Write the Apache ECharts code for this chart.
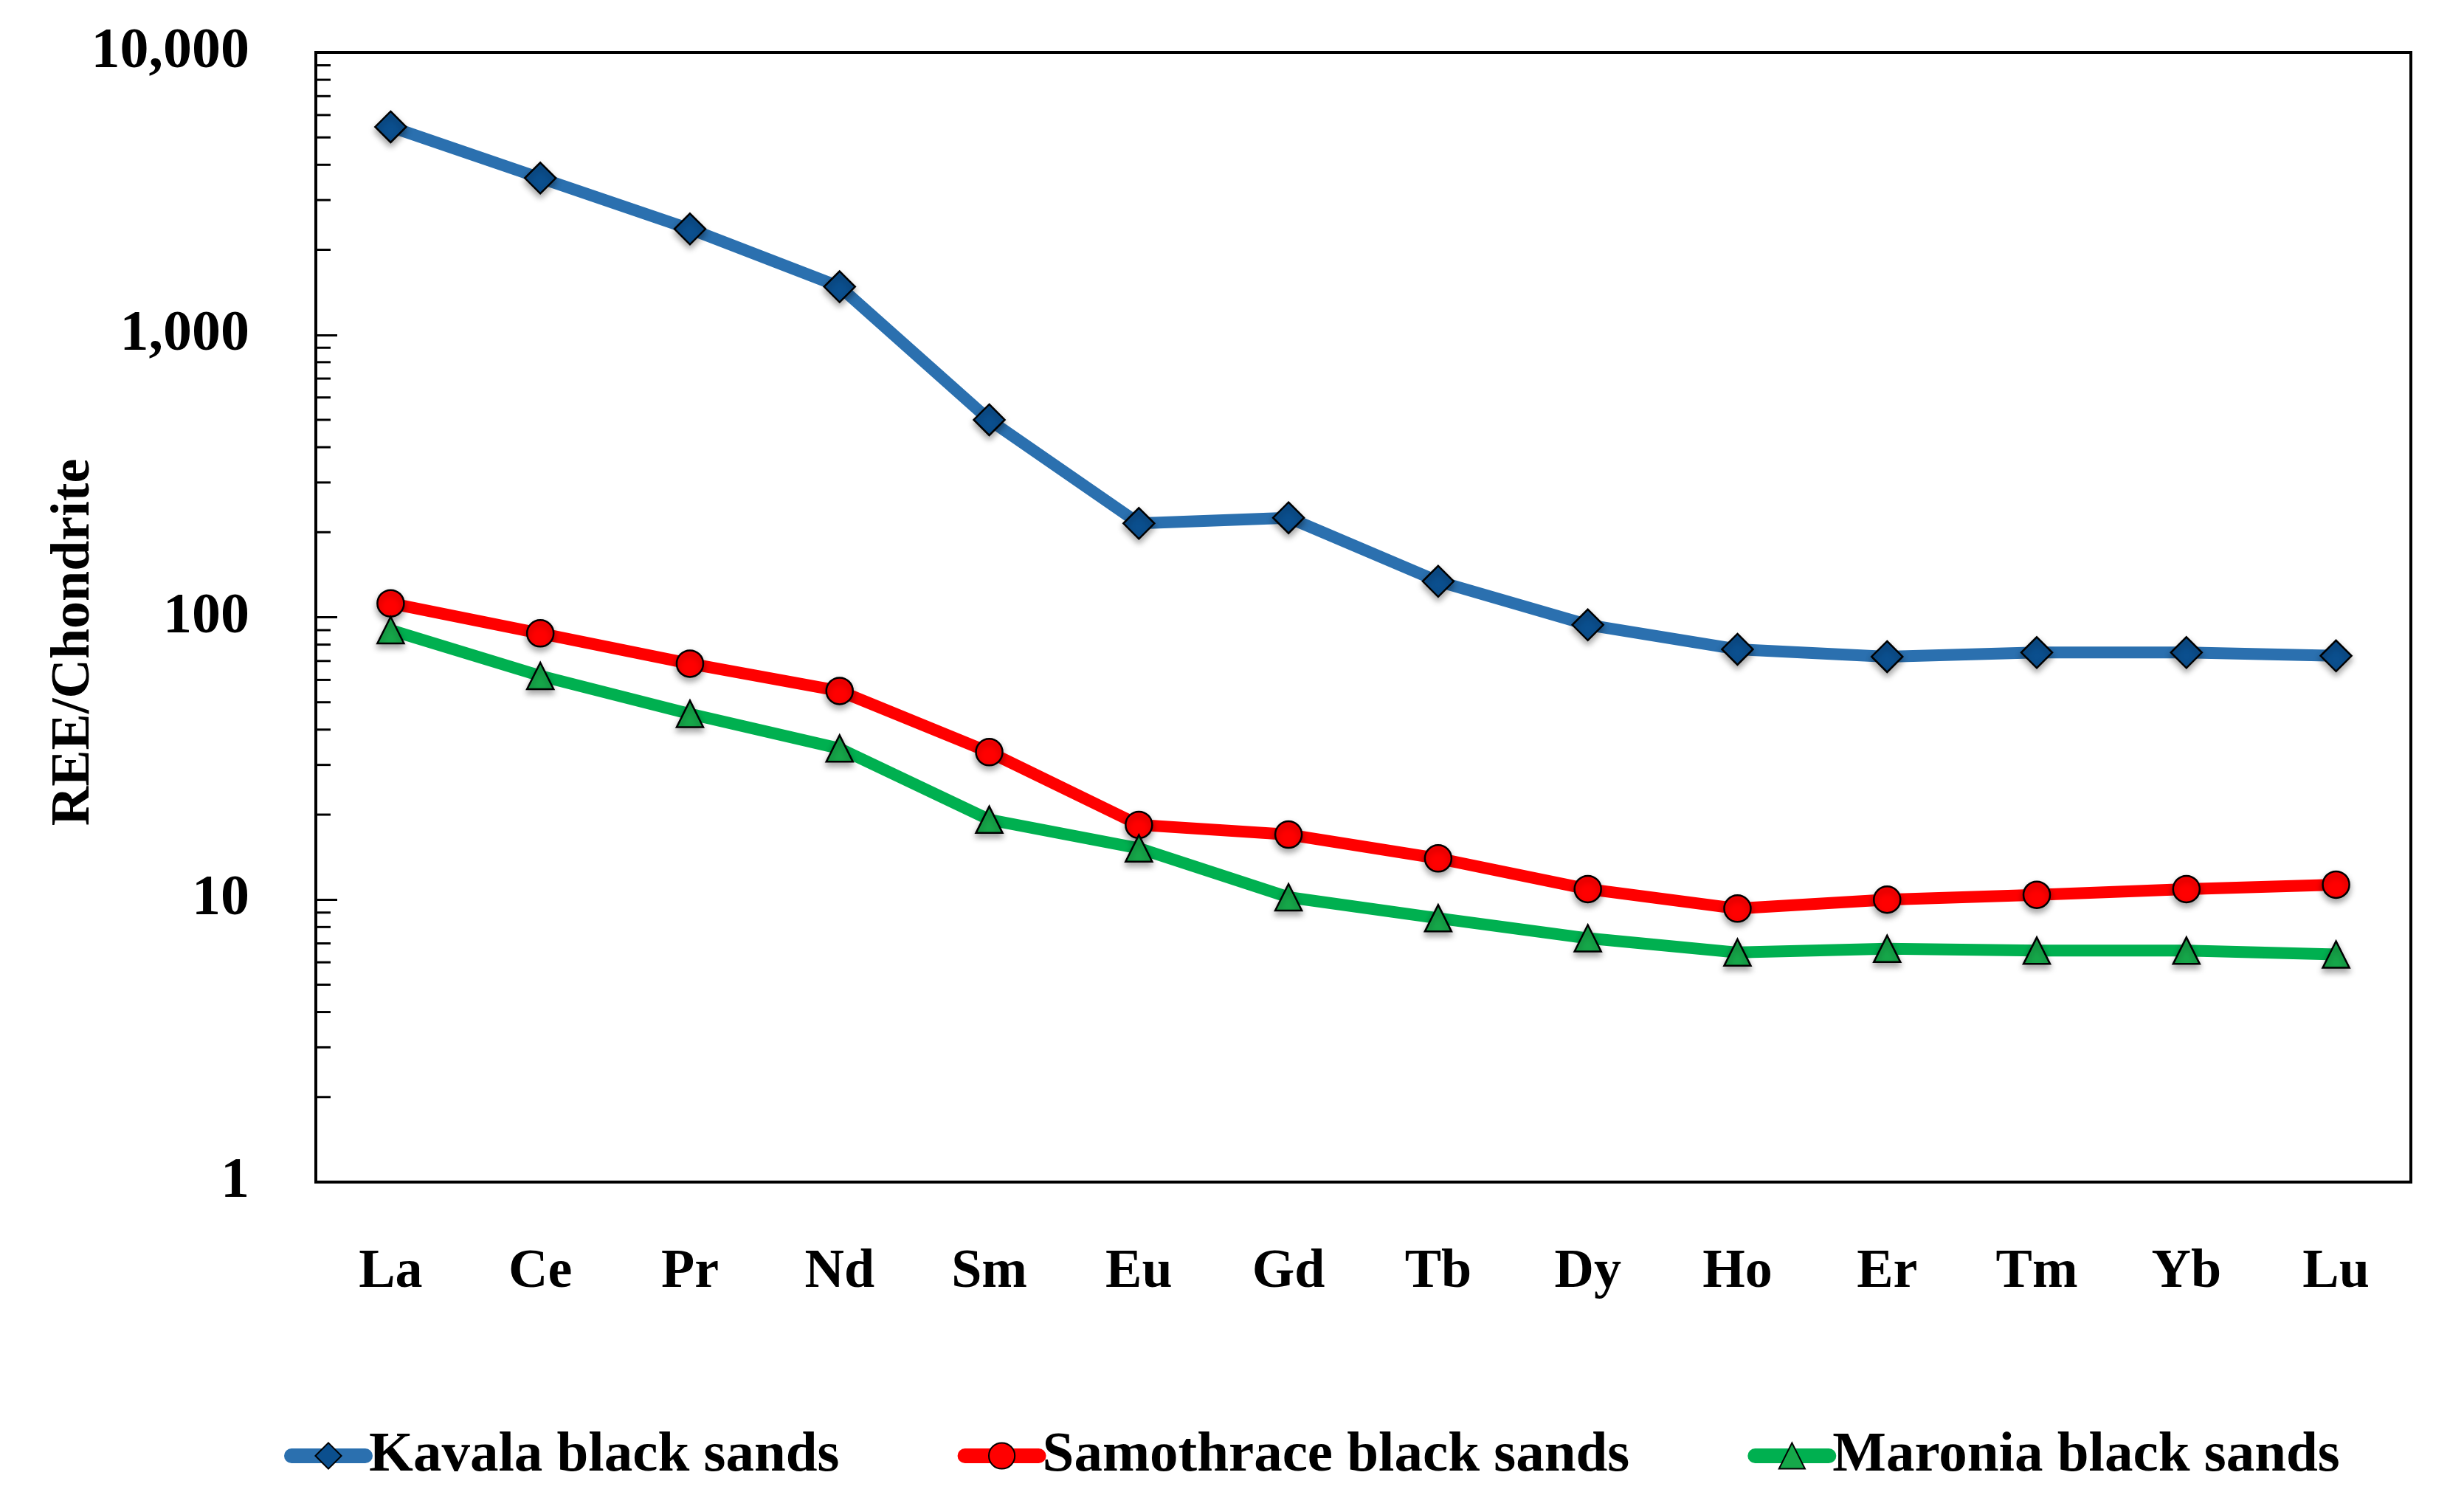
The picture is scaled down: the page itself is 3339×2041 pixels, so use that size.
<!DOCTYPE html>
<html>
<head>
<meta charset="utf-8">
<script src="https://cdn.jsdelivr.net/npm/echarts@6/dist/echarts.min.js"></script>
<style>html,body{margin:0;padding:0;background:#fff;}#c{width:3339px;height:2041px;}</style>
</head>
<body>
<div id="c"></div>
<script>
const categories = ['La','Ce','Pr','Nd','Sm','Eu','Gd','Tb','Dy','Ho','Er','Tm','Yb','Lu'];
const kavala = [5450, 3590, 2370, 1480, 500, 215, 225, 134, 94, 77, 72.5, 75, 75, 73];
const samothrace = [112, 87.7, 68.5, 54.8, 33.3, 18.4, 17.0, 14.0, 10.9, 9.3, 10.0, 10.4, 10.9, 11.3];
const maronia = [90, 62, 45.5, 34.3, 19.2, 15.2, 10.2, 8.6, 7.3, 6.5, 6.7, 6.6, 6.6, 6.4];
const seriesNames = ['Kavala black sands', 'Samothrace black sands', 'Maronia black sands'];
const yTicks = [1, 10, 100, 1000, 10000];
const yTickLabels = ['1', '10', '100', '1,000', '10,000'];
const yMinorSteps = [2, 3, 4, 5, 6, 7, 8, 9];

const FONT = '"Liberation Serif", "DejaVu Serif", serif';
const chart = echarts.init(document.getElementById('c'));

function mkSeries(name, data, lineColor, symbol, size, fill) {
  return {
    name: name, type: 'line', data: data,
    symbol: symbol, symbolSize: size,
    lineStyle: { color: lineColor, width: 16, cap: 'round', join: 'round' },
    itemStyle: { color: fill, borderColor: '#000', borderWidth: 2.5,
      shadowColor: 'rgba(0,0,0,0.35)', shadowBlur: 8, shadowOffsetY: 5 },
    emphasis: { disabled: true },
    z: 3
  };
}

const option = {
  animation: false,
  backgroundColor: '#fff',
  grid: { left: 428, right: 72, top: 71, bottom: 439, show: true, borderColor: '#000', borderWidth: 4, backgroundColor: 'transparent' },
  legend: {
    left: 380, top: 1926,
    itemWidth: 100, itemHeight: 44, itemGap: 160,
    lineStyle: { width: 20, cap: 'round' },
    textStyle: { fontFamily: FONT, fontWeight: 'bold', fontSize: 77, color: '#000', lineHeight: 84 },
    data: seriesNames
  },
  xAxis: {
    type: 'category', data: categories, boundaryGap: true,
    axisLine: { lineStyle: { color: '#000', width: 4 } },
    axisTick: { inside: true, alignWithLabel: true, length: 21, lineStyle: { color: '#000', width: 3 } },
    axisLabel: { margin: 86, fontFamily: FONT, fontWeight: 'bold', fontSize: 74, color: '#000' },
    splitLine: { show: false }
  },
  yAxis: {
    type: 'log', logBase: 10, min: 1, max: 10000,
    name: 'REE/Chondrite', nameLocation: 'middle', nameGap: 290, nameRotate: 90,
    nameMoveOverlap: false,
    nameTextStyle: { fontFamily: FONT, fontWeight: 'bold', fontSize: 74, color: '#000', padding: [0, 68, 0, 0] },
    axisLine: { show: true, lineStyle: { color: '#000', width: 4 } },
    axisTick: { show: true, inside: true, length: 29, lineStyle: { color: '#000', width: 3 } },
    axisLabel: { margin: 90, fontFamily: FONT, fontWeight: 'bold', fontSize: 78, color: '#000',
      formatter: function (v) { const i = yTicks.indexOf(Math.round(v)); return i >= 0 ? yTickLabels[i] : ''; } },
    splitLine: { show: false }
  },
  series: [
    mkSeries(seriesNames[0], kavala, '#2B70AF', 'diamond', 42, '#0B4F8E'),
    mkSeries(seriesNames[1], samothrace, '#FF0000', 'circle', 36, '#FF0000'),
    mkSeries(seriesNames[2], maronia, '#00B050', 'triangle', 36, '#16A84A')
  ]
};
chart.setOption(option);

// minor log ticks on the left axis, positioned through the axis scale
const gridRect = chart.getModel().getComponent('grid').coordinateSystem.getRect();
const minor = [];
for (let d = 0; d < yTicks.length - 1; d++) {
  yMinorSteps.forEach(function (m) {
    const v = yTicks[d] * m;
    const py = chart.convertToPixel({ yAxisIndex: 0 }, v);
    minor.push({ type: 'line', shape: { x1: gridRect.x, y1: py, x2: gridRect.x + 20, y2: py },
      style: { stroke: '#000', lineWidth: 3 }, z: 10, silent: true });
  });
}
chart.setOption({ graphic: minor });
</script>
</body>
</html>
